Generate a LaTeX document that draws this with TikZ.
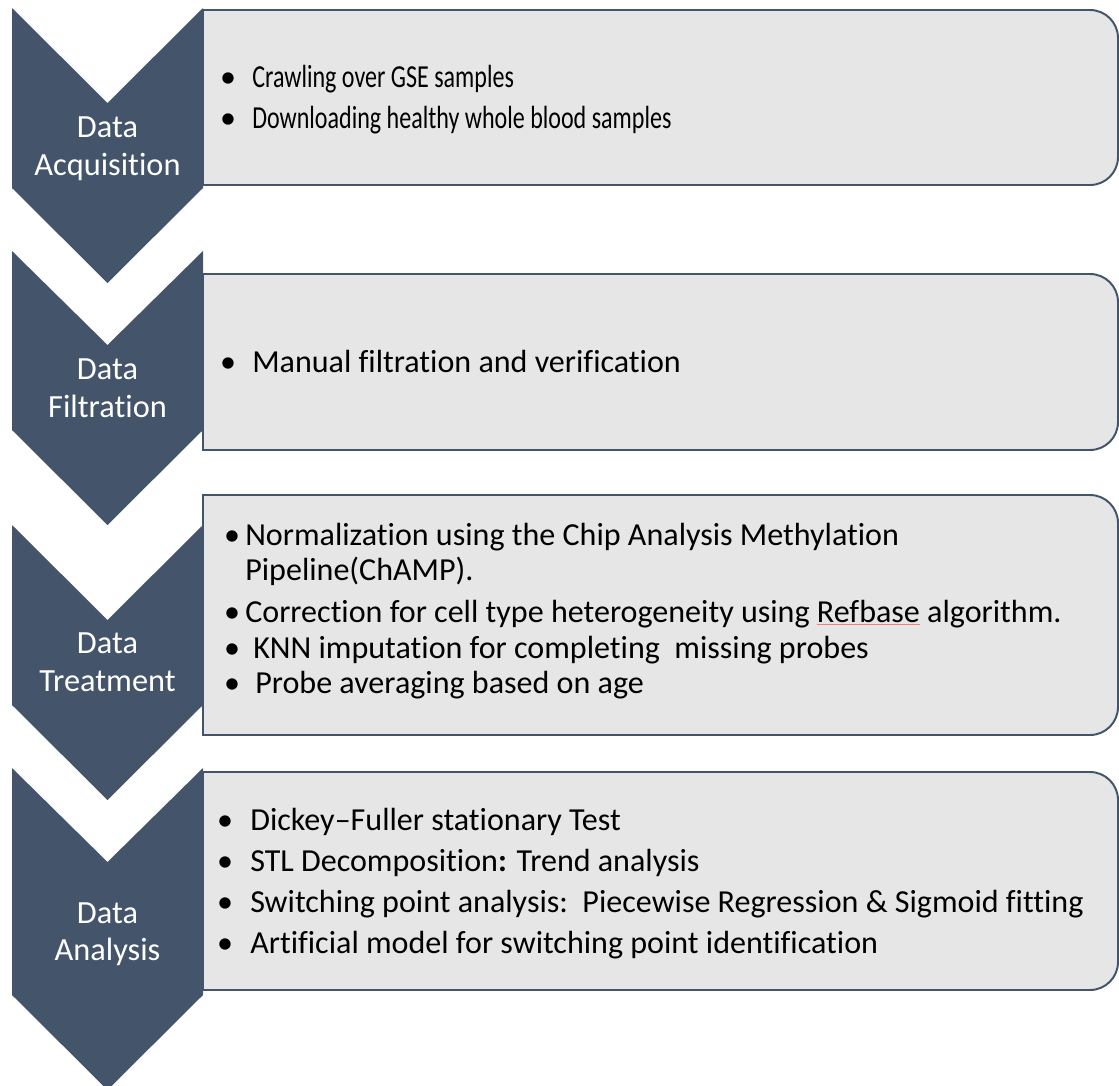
\documentclass[tikz,border=0pt]{standalone}
\usepackage{fontspec}
\setmainfont{Carlito}[Ligatures={NoCommon,NoContextual}]
\usepackage{graphicx}
\usepackage{xcolor}

\definecolor{slate}{HTML}{44546A}
\definecolor{boxgray}{HTML}{E7E6E6}
\definecolor{spellred}{HTML}{F08080}

% narrow text for the first box
\newcommand{\squeeze}[1]{\scalebox{0.75}[1]{#1}}
% red spell-check underline
\newcommand{\spellmark}[1]{\setbox0=\hbox{#1}\rlap{\textcolor{spellred}{\rule[-0.1em]{\wd0}{0.035em}}}\box0\relax}

\begin{document}
\begin{tikzpicture}[x=0.025cm, y=0.025cm,
    chevron/.style={fill=slate},
    infobox/.style={draw=slate, line width=1.4pt, fill=boxgray},
    steplabel/.style={text=white, font=\fontsize{23pt}{27pt}\selectfont, anchor=base, inner sep=0pt},
    itemdot/.style={font=\fontsize{22.8pt}{27pt}\selectfont, anchor=base, inner sep=0pt},
    itemline/.style={font=\fontsize{22.8pt}{27pt}\selectfont, anchor=base west, inner sep=0pt}]

    \useasboundingbox (0,0) rectangle (1119,-1086);

    % Stage 1: acquisition
    \begin{scope}
        \draw[infobox] (203,-10) -- (1090,-10) arc[start angle=90, end angle=0, radius=28]
            -- (1118,-157) arc[start angle=0, end angle=-90, radius=28] -- (203,-185) -- cycle;
        \fill[chevron] (12,-8) -- (107.5,-103) -- (203,-8) -- (203,-188) -- (107.5,-283) -- (12,-188) -- cycle;
        \node[steplabel] (acqA) at (107.5,-137) {Data};
        \node[steplabel] (acqB) at (107.5,-175) {Acquisition};
        \node[itemdot] (acqdot1) at (228,-87) {\textbullet};
        \node[itemline] (acqitem1) at (252,-87) {\squeeze{Crawling over GSE samples}};
        \node[itemdot] (acqdot2) at (228,-128) {\textbullet};
        \node[itemline] (acqitem2) at (252,-128) {\squeeze{Downloading healthy whole blood samples}};
    \end{scope}

    % Stage 2: filtration
    \begin{scope}
        \draw[infobox] (203,-274) -- (1090,-274) arc[start angle=90, end angle=0, radius=28]
            -- (1118,-422) arc[start angle=0, end angle=-90, radius=28] -- (203,-450) -- cycle;
        \fill[chevron] (12,-251) -- (107.5,-345) -- (203,-251) -- (203,-430) -- (107.5,-525) -- (12,-430) -- cycle;
        \node[steplabel] (filA) at (107.5,-379) {Data};
        \node[steplabel] (filB) at (107.5,-417) {Filtration};
        \node[itemdot] (fildot1) at (228,-372) {\textbullet};
        \node[itemline] (filitem1) at (252,-372) {Manual filtration and verification};
    \end{scope}

    % Stage 3: treatment
    \begin{scope}
        \draw[infobox] (203,-495) -- (1090,-495) arc[start angle=90, end angle=0, radius=28]
            -- (1118,-707) arc[start angle=0, end angle=-90, radius=28] -- (203,-735) -- cycle;
        \fill[chevron] (12,-525) -- (107.5,-620) -- (203,-525) -- (203,-705) -- (107.5,-800) -- (12,-705) -- cycle;
        \node[steplabel] (treA) at (107.5,-653) {Data};
        \node[steplabel] (treB) at (107.5,-691) {Treatment};
        \node[itemdot] (tredot1) at (232,-545) {\textbullet};
        \node[itemline] (treitem1) at (245,-545) {Normalization using the Chip Analysis Methylation};
        \node[itemline] (treitem1b) at (245,-580) {Pipeline(ChAMP).};
        \node[itemdot] (tredot2) at (232,-622) {\textbullet};
        \node[itemline] (treitem2) at (245,-622) {Correction for cell type heterogeneity using \spellmark{Refbase} algorithm.};
        \node[itemdot] (tredot3) at (232,-658) {\textbullet};
        \node[itemline] (treitem3) at (253,-658) {KNN imputation for completing\ \ missing probes};
        \node[itemdot] (tredot4) at (232,-693) {\textbullet};
        \node[itemline] (treitem4) at (255,-693) {Probe averaging based on age};
    \end{scope}

    % Stage 4: analysis
    \begin{scope}
        \draw[infobox] (203,-772) -- (1090,-772) arc[start angle=90, end angle=0, radius=28]
            -- (1118,-962) arc[start angle=0, end angle=-90, radius=28] -- (203,-990) -- cycle;
        \fill[chevron] (12,-768) -- (107.5,-862) -- (203,-768) -- (203,-995) -- (107.5,-1090) -- (12,-995) -- cycle;
        \node[steplabel] (anaA) at (107.5,-923) {Data};
        \node[steplabel] (anaB) at (107.5,-960) {Analysis};
        \node[itemdot] (anadot1) at (225,-830) {\textbullet};
        \node[itemline] (anaitem1) at (250,-830) {Dickey–Fuller stationary Test};
        \node[itemdot] (anadot2) at (225,-871) {\textbullet};
        \node[itemline] (anaitem2) at (250,-871) {STL Decomposition\textbf{:} Trend analysis};
        \node[itemdot] (anadot3) at (225,-912) {\textbullet};
        \node[itemline] (anaitem3) at (250,-912) {Switching point analysis:\ \ Piecewise Regression \& Sigmoid fitting};
        \node[itemdot] (anadot4) at (225,-953) {\textbullet};
        \node[itemline] (anaitem4) at (250,-953) {Artificial model for switching point identification};
    \end{scope}
\end{tikzpicture}
\end{document}
